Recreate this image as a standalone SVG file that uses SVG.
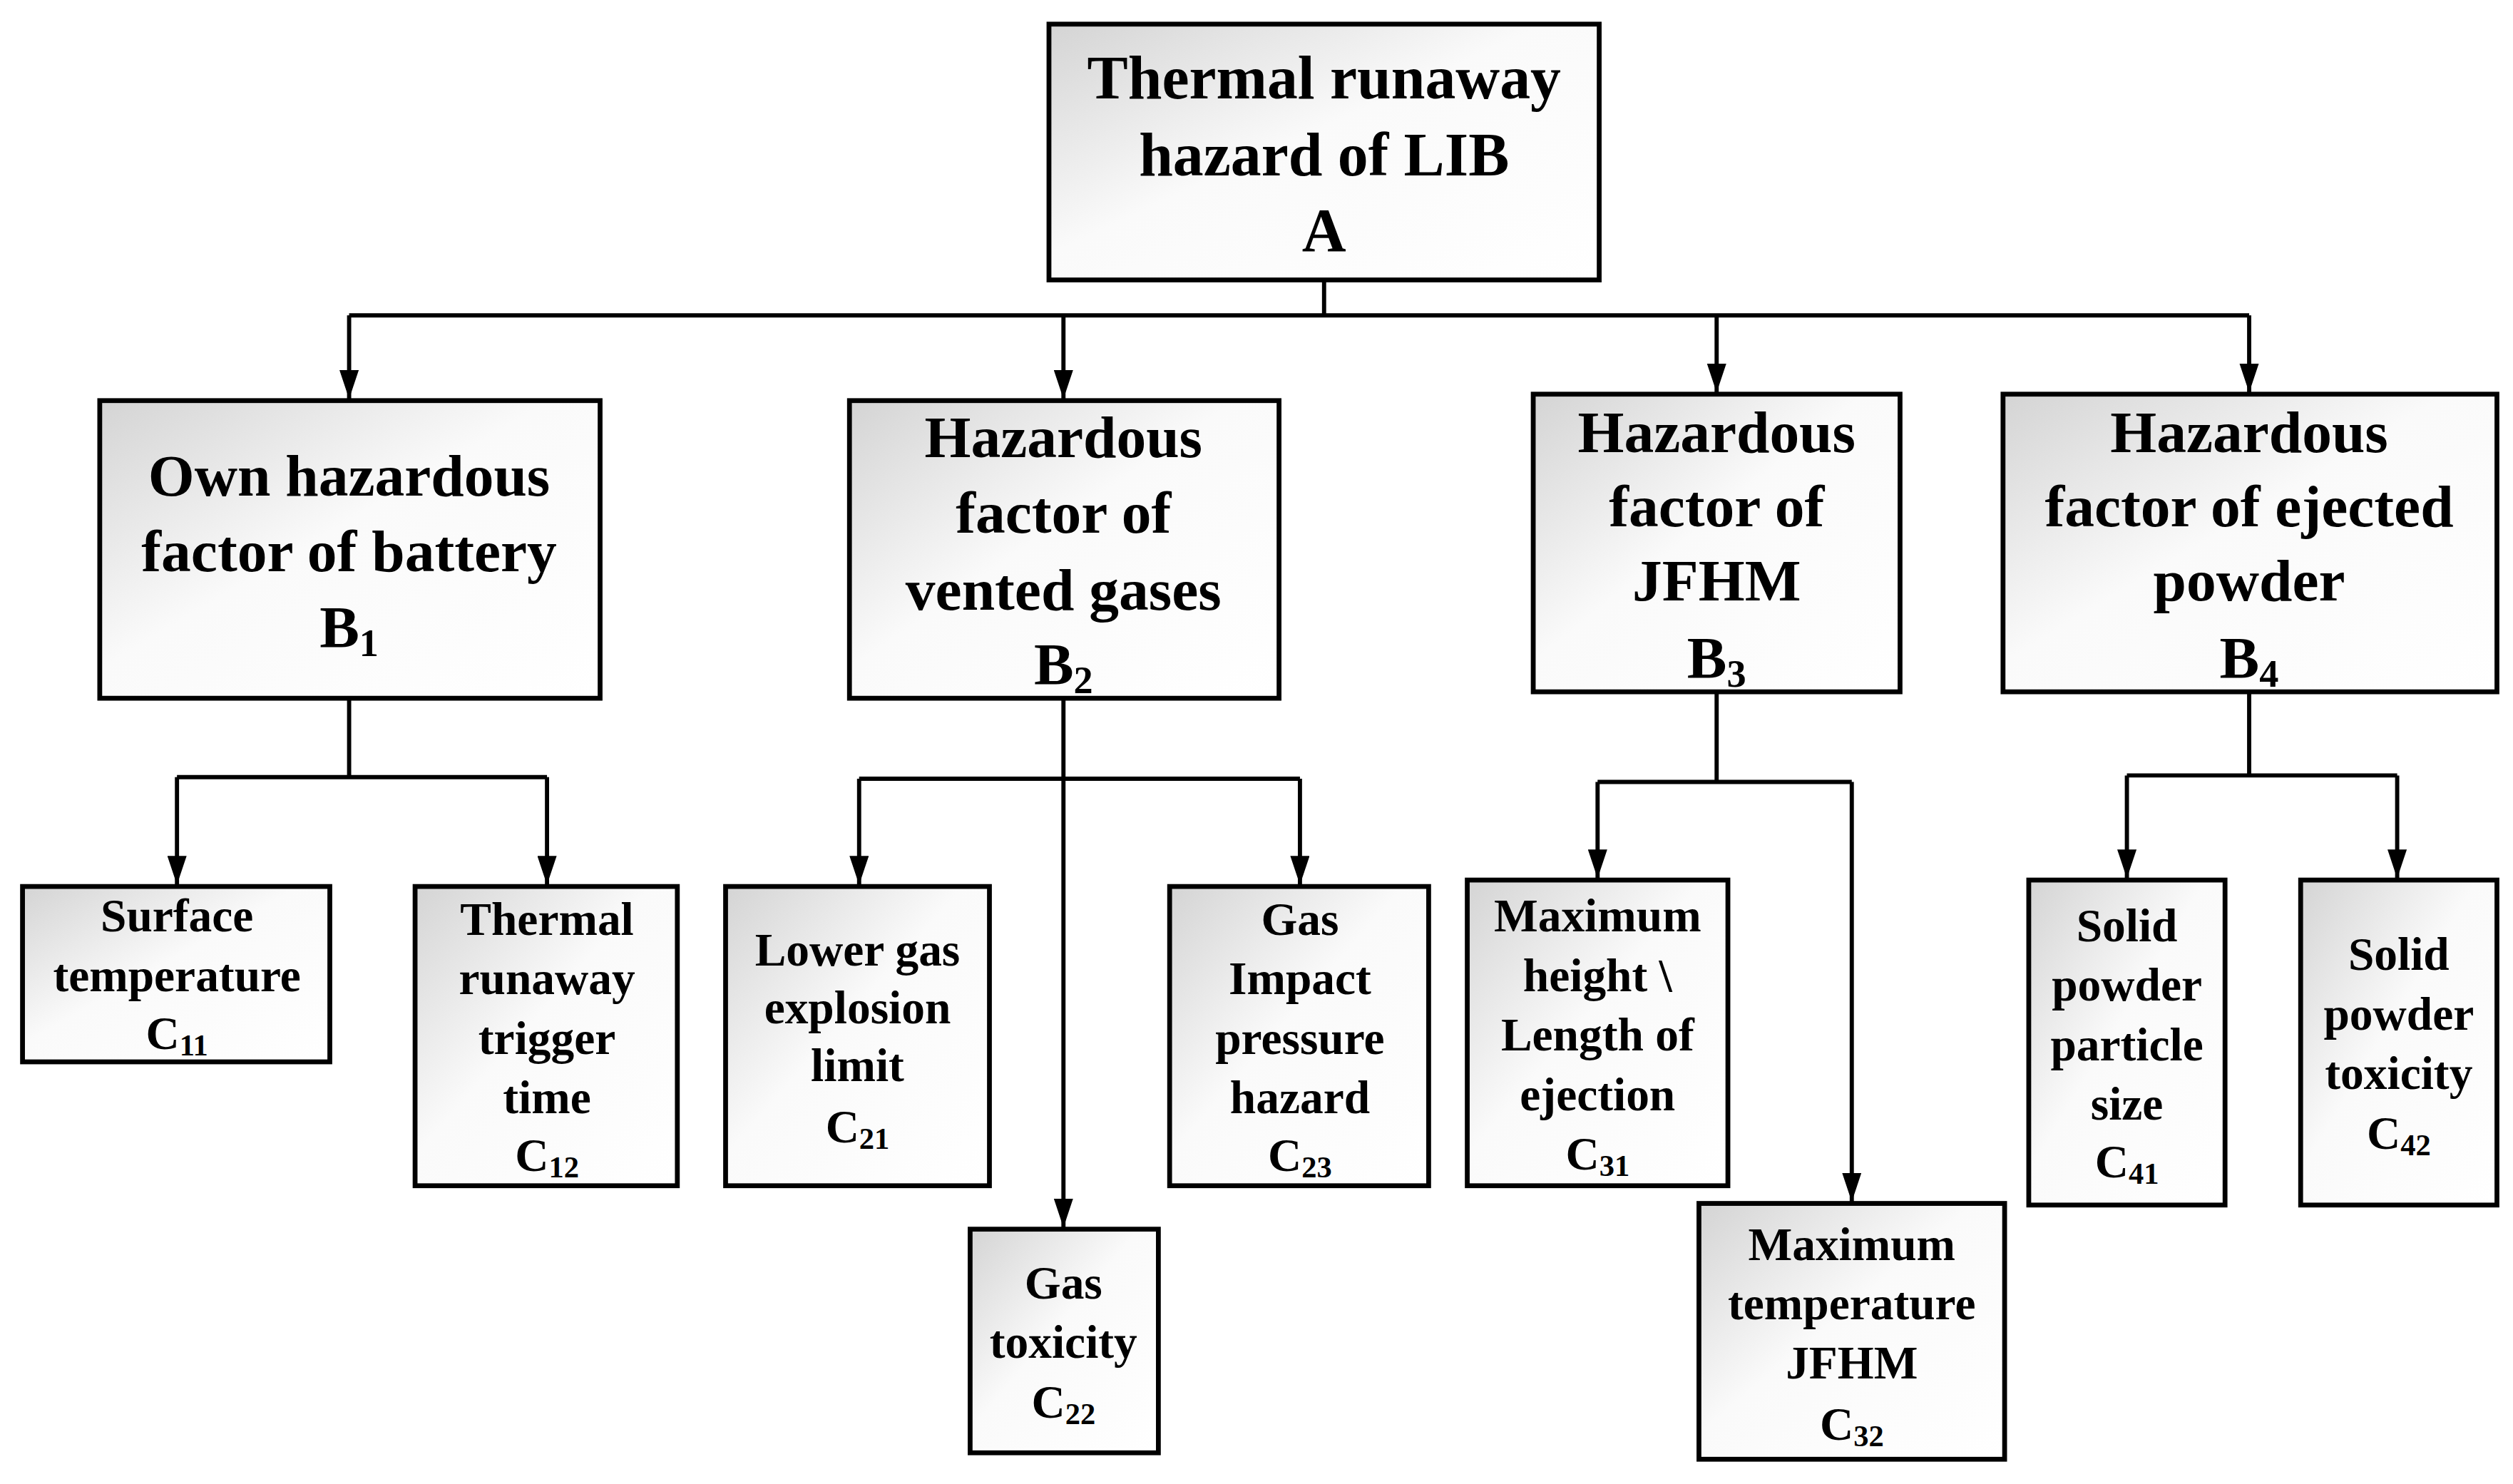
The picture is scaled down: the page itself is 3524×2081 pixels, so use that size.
<svg xmlns="http://www.w3.org/2000/svg" width="3524" height="2081" viewBox="0 0 3524 2081">
<style>
.box{fill:url(#g);stroke:#000;stroke-width:3}
.t{font-family:"Liberation Serif","Times New Roman",serif;font-weight:bold;text-anchor:middle;fill:#000}
.a{font-size:38px}.b{font-size:37px}.c{font-size:29px}
.ln{fill:none;stroke:#000;stroke-width:2.6}
.sub{font-size:0.65em}
</style>
<defs>
<linearGradient id="g" x1="0" y1="0" x2="1" y2="1">
<stop offset="0" stop-color="#d4d4d4"/><stop offset="0.45" stop-color="#fafafa"/><stop offset="1" stop-color="#fff"/>
</linearGradient>
<marker id="ar" markerUnits="userSpaceOnUse" viewBox="0 0 12 18" markerWidth="12" markerHeight="18" refX="6" refY="18" orient="auto-start-reverse">
<path d="M0 0L12 0L6 18Z" fill="#000" transform="rotate(-90 6 9) translate(0 0)"/>
</marker>
<marker id="m" markerUnits="userSpaceOnUse" viewBox="-9 -6 18 12" markerWidth="18" markerHeight="12" refX="9" refY="0" orient="auto">
<path d="M-9 -6L9 0L-9 6Z" fill="#000"/>
</marker>
</defs>
<rect width="3524" height="2081" fill="#fff"/>
<g transform="scale(2.2561)">
<g id="connectors">
<path class="ln" d="M823 174V196M217 196H1398"/>
<path class="ln" d="M217 196V248" marker-end="url(#m)"/>
<path class="ln" d="M661 196V248" marker-end="url(#m)"/>
<path class="ln" d="M1067 196V244" marker-end="url(#m)"/>
<path class="ln" d="M1398 196V244" marker-end="url(#m)"/>
<path class="ln" d="M217 434V483M110 483H340"/>
<path class="ln" d="M110 483V550" marker-end="url(#m)"/>
<path class="ln" d="M340 483V550" marker-end="url(#m)"/>
<path class="ln" d="M534 484H808"/>
<path class="ln" d="M661 434V763" marker-end="url(#m)"/>
<path class="ln" d="M534 484V550" marker-end="url(#m)"/>
<path class="ln" d="M808 484V550" marker-end="url(#m)"/>
<path class="ln" d="M1067 430V486M993 486H1151"/>
<path class="ln" d="M993 486V546" marker-end="url(#m)"/>
<path class="ln" d="M1151 486V747" marker-end="url(#m)"/>
<path class="ln" d="M1398 430V482M1322 482H1490"/>
<path class="ln" d="M1322 482V546" marker-end="url(#m)"/>
<path class="ln" d="M1490 482V546" marker-end="url(#m)"/>
</g>
<g id="A"><rect class="box" x="652" y="15" width="342" height="159"/>
<text class="t a" x="823" y="61">Thermal runaway</text><text class="t a" x="823" y="109">hazard of LIB</text><text class="t a" x="823" y="156">A</text></g>
<g id="B1"><rect class="box" x="62" y="249" width="311" height="185"/>
<text class="t b" x="217" y="308">Own hazardous</text><text class="t b" x="217" y="355">factor of battery</text><text class="t b" x="217" y="402">B<tspan class="sub" dy="6">1</tspan></text></g>
<g id="B2"><rect class="box" x="528" y="249" width="267" height="185"/>
<text class="t b" x="661" y="284">Hazardous</text><text class="t b" x="661" y="331">factor of</text><text class="t b" x="661" y="379">vented gases</text><text class="t b" x="661" y="425">B<tspan class="sub" dy="6">2</tspan></text></g>
<g id="B3"><rect class="box" x="953" y="245" width="228" height="185"/>
<text class="t b" x="1067" y="281">Hazardous</text><text class="t b" x="1067" y="327">factor of</text><text class="t b" x="1067" y="373">JFHM</text><text class="t b" x="1067" y="421">B<tspan class="sub" dy="6">3</tspan></text></g>
<g id="B4"><rect class="box" x="1245" y="245" width="307" height="185"/>
<text class="t b" x="1398" y="281">Hazardous</text><text class="t b" x="1398" y="327">factor of ejected</text><text class="t b" x="1398" y="373">powder</text><text class="t b" x="1398" y="421">B<tspan class="sub" dy="6">4</tspan></text></g>
<g id="C11"><rect class="box" x="14" y="551" width="191" height="109"/>
<text class="t c" x="110" y="579">Surface</text><text class="t c" x="110" y="616">temperature</text><text class="t c" x="110" y="652">C<tspan class="sub" dy="4">11</tspan></text></g>
<g id="C12"><rect class="box" x="258" y="551" width="163" height="186"/>
<text class="t c" x="340" y="581">Thermal</text><text class="t c" x="340" y="618">runaway</text><text class="t c" x="340" y="655">trigger</text><text class="t c" x="340" y="692">time</text><text class="t c" x="340" y="728">C<tspan class="sub" dy="4">12</tspan></text></g>
<g id="C21"><rect class="box" x="451" y="551" width="164" height="186"/>
<text class="t c" x="533" y="600">Lower gas</text><text class="t c" x="533" y="636">explosion</text><text class="t c" x="533" y="672">limit</text><text class="t c" x="533" y="710">C<tspan class="sub" dy="4">21</tspan></text></g>
<g id="C23"><rect class="box" x="727" y="551" width="161" height="186"/>
<text class="t c" x="808" y="581">Gas</text><text class="t c" x="808" y="618">Impact</text><text class="t c" x="808" y="655">pressure</text><text class="t c" x="808" y="692">hazard</text><text class="t c" x="808" y="728">C<tspan class="sub" dy="4">23</tspan></text></g>
<g id="C22"><rect class="box" x="603" y="764" width="117" height="139"/>
<text class="t c" x="661" y="807">Gas</text><text class="t c" x="661" y="844">toxicity</text><text class="t c" x="661" y="881">C<tspan class="sub" dy="4">22</tspan></text></g>
<g id="C31"><rect class="box" x="912" y="547" width="162" height="190"/>
<text class="t c" x="993" y="579">Maximum</text><text class="t c" x="993" y="616">height \</text><text class="t c" x="993" y="653">Length of</text><text class="t c" x="993" y="690">ejection</text><text class="t c" x="993" y="727">C<tspan class="sub" dy="4">31</tspan></text></g>
<g id="C32"><rect class="box" x="1056" y="748" width="190" height="159"/>
<text class="t c" x="1151" y="783">Maximum</text><text class="t c" x="1151" y="820">temperature</text><text class="t c" x="1151" y="857">JFHM</text><text class="t c" x="1151" y="895">C<tspan class="sub" dy="4">32</tspan></text></g>
<g id="C41"><rect class="box" x="1261" y="547" width="122" height="202"/>
<text class="t c" x="1322" y="585">Solid</text><text class="t c" x="1322" y="622">powder</text><text class="t c" x="1322" y="659">particle</text><text class="t c" x="1322" y="696">size</text><text class="t c" x="1322" y="732">C<tspan class="sub" dy="4">41</tspan></text></g>
<g id="C42"><rect class="box" x="1430" y="547" width="122" height="202"/>
<text class="t c" x="1491" y="603">Solid</text><text class="t c" x="1491" y="640">powder</text><text class="t c" x="1491" y="677">toxicity</text><text class="t c" x="1491" y="714">C<tspan class="sub" dy="4">42</tspan></text></g>
</g>
</svg>
